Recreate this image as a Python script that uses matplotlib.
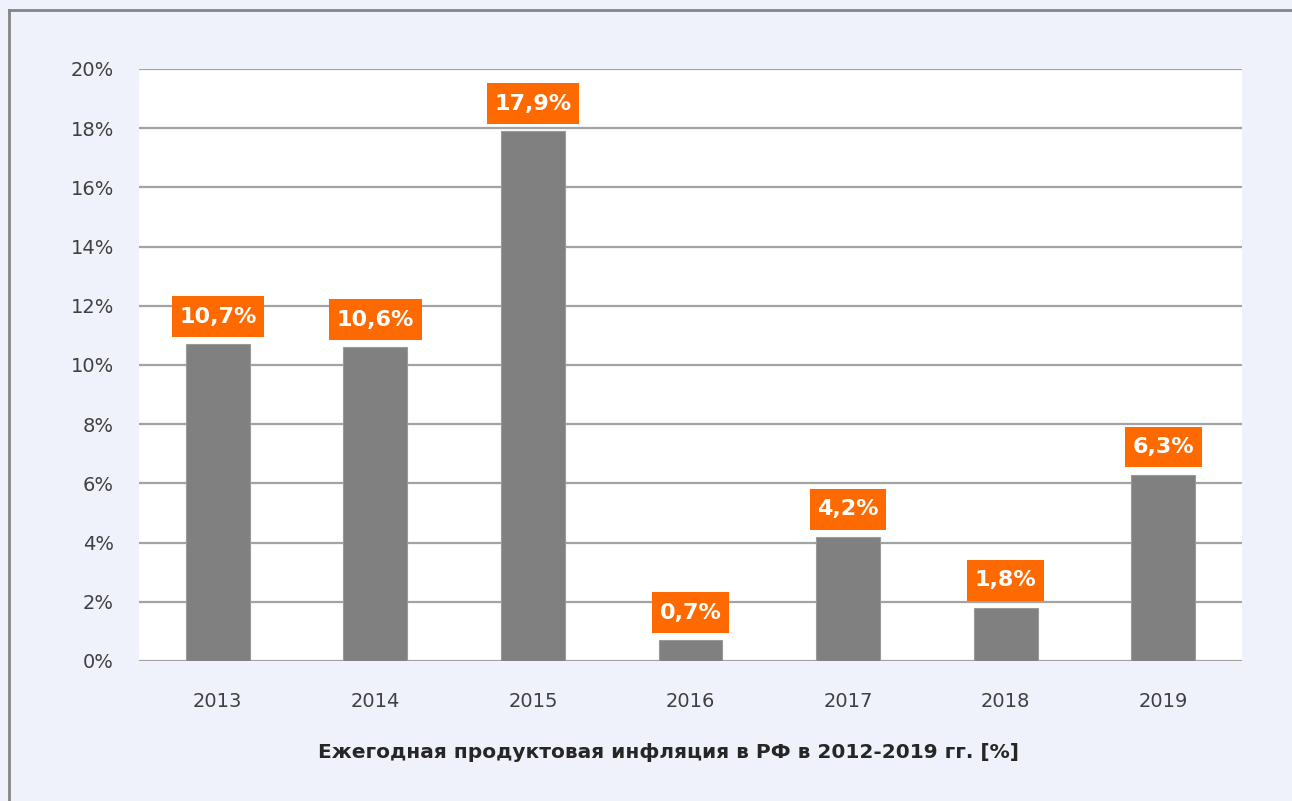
import matplotlib
matplotlib.use("Agg")
import matplotlib.pyplot as plt
from matplotlib.lines import Line2D

years = ["2013", "2014", "2015", "2016", "2017", "2018", "2019"]
values = [10.7, 10.6, 17.9, 0.7, 4.2, 1.8, 6.3]
labels = ["10,7%", "10,6%", "17,9%", "0,7%", "4,2%", "1,8%", "6,3%"]
yticks = [0, 2, 4, 6, 8, 10, 12, 14, 16, 18, 20]
title = "Ежегодная продуктовая инфляция в РФ в 2012-2019 гг. [%]"

plt.rcParams['font.family'] = ['DejaVu Sans']

W, H = 1292, 801
fig = plt.figure(figsize=(W / 100, H / 100), dpi=100)
fig.patch.set_facecolor('#EFF2FA')

ax = fig.add_axes([139 / W, 1 - 661 / H, (1242 - 139) / W, (661 - 69) / H])
ax.set_facecolor('white')

x = list(range(len(years)))
ax.bar(x, values, width=0.406, color='#808080', edgecolor='#9A9A9A', linewidth=0.8, zorder=3)

ax.set_xlim(-0.5, len(years) - 0.5)
ax.set_ylim(0, 20)
ax.set_yticks(yticks)
ax.set_yticklabels([f"{t}%" for t in yticks])
ax.set_xticks(x)
ax.set_xticklabels(years)
ax.tick_params(axis='both', length=0, labelsize=14, colors='#404040')
ax.tick_params(axis='y', pad=18)
ax.tick_params(axis='x', pad=22)
for s in ax.spines.values():
    s.set_visible(False)
ax.yaxis.grid(True, color='#A3A3A3', linewidth=1.6, zorder=0)
ax.set_axisbelow(True)

for xi, v, lab in zip(x, values, labels):
    ax.annotate(lab, (xi, v), xytext=(0, 12.6), textcoords='offset points',
                ha='center', va='bottom', fontsize=16, fontweight='bold', color='white',
                bbox=dict(boxstyle='square,pad=0.34', facecolor='#FF6A00', edgecolor='none',
                          mutation_aspect=1.38),
                zorder=5)

fig.text(669 / W, 1 - 752 / H, title, ha='center', va='center', fontsize=14.5,
         fontweight='bold', color='#262626')

# outer chart border (left and top visible)
fig.add_artist(Line2D([9 / W, 9 / W], [0, 1 - 9.5 / H], transform=fig.transFigure,
                      color='#858585', linewidth=2))
fig.add_artist(Line2D([9 / W, 1], [1 - 9.5 / H, 1 - 9.5 / H], transform=fig.transFigure,
                      color='#858585', linewidth=2))

fig.savefig("out.png", dpi=100, facecolor=fig.get_facecolor())
